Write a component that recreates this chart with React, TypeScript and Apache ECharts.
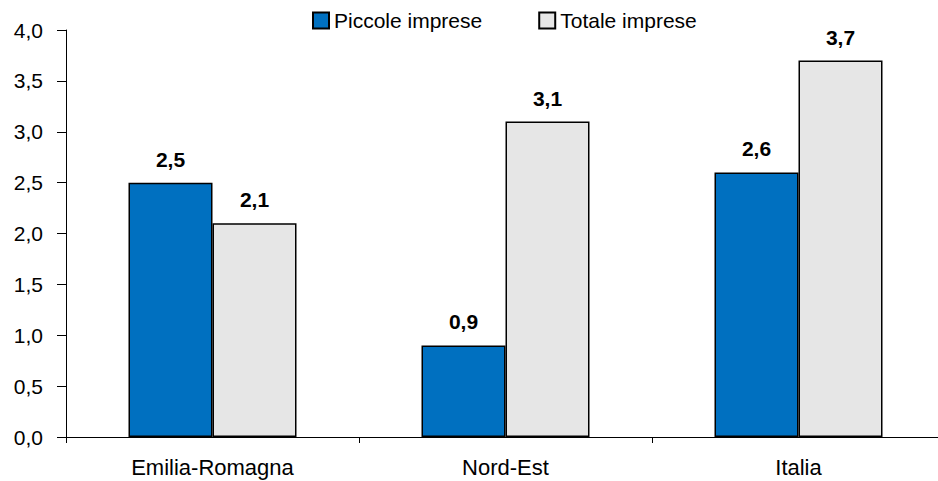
import React, { useEffect, useRef } from "react";
import * as echarts from "echarts";

const categories = ["Emilia-Romagna", "Nord-Est", "Italia"];
const piccole = [2.5, 0.9, 2.6];
const totale = [2.1, 3.1, 3.7];
const seriesNames = ["Piccole imprese", "Totale imprese"];

const FONT = "'Liberation Sans', Arial, sans-serif";
const fmt = (v: number) => v.toFixed(1).replace(".", ",");

export default function App() {
  const ref = useRef<HTMLDivElement>(null);
  useEffect(() => {
    const chart = echarts.init(ref.current!, null, { renderer: "svg" });
    const label = {
      show: true,
      position: "top" as const,
      distance: 13,
      fontFamily: FONT,
      fontWeight: "bold" as const,
      fontSize: 21,
      color: "#000",
      formatter: (p: any) => fmt(p.value),
    };
    chart.setOption({
      animation: false,
      textStyle: { fontFamily: FONT },
      legend: {
        top: 5,
        left: 307,
        itemWidth: 16,
        itemHeight: 16,
        itemGap: 56,
        icon: "rect",
        textStyle: { fontFamily: FONT, fontSize: 21, color: "#000" },
        data: seriesNames,
      },
      grid: { left: 66, width: 879, top: 30, bottom: 44, containLabel: false, outerBoundsMode: "none" },
      xAxis: {
        type: "category",
        data: categories,
        axisLine: { lineStyle: { color: "#000", width: 1 } },
        axisTick: { show: true, length: 6, lineStyle: { color: "#000" } },
        axisLabel: { fontFamily: FONT, fontSize: 22, color: "#000", margin: 19 },
      },
      yAxis: {
        type: "value",
        min: 0,
        max: 4,
        interval: 0.5,
        splitLine: { show: false },
        axisLine: { show: true, lineStyle: { color: "#000", width: 1 } },
        axisTick: { show: true, length: 9, lineStyle: { color: "#000" } },
        axisLabel: { fontFamily: FONT, fontSize: 21, color: "#000", margin: 23, formatter: (v: number) => fmt(v) },
      },
      series: [
        {
          name: seriesNames[0],
          type: "bar",
          data: piccole,
          barWidth: 84,
          barGap: "0%",
          itemStyle: { color: "#0070C0", borderColor: "#000", borderWidth: 1.5 },
          label,
        },
        {
          name: seriesNames[1],
          type: "bar",
          data: totale,
          barWidth: 84,
          barGap: "0%",
          itemStyle: { color: "#E6E6E6", borderColor: "#000", borderWidth: 1.5 },
          label,
        },
      ],
    });
    return () => chart.dispose();
  }, []);
  return (
    <div
      ref={ref}
      style={{ position: "fixed", left: 0, top: 0, width: 938, height: 481, background: "#fff" }}
    />
  );
}
